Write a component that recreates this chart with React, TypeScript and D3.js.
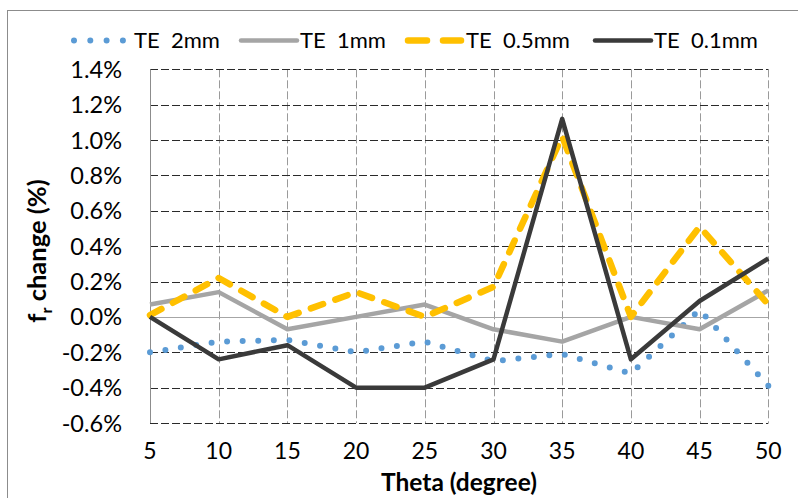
import React, { useEffect, useRef } from "react";
import * as d3 from "d3";

const thetas = [5, 10, 15, 20, 25, 30, 35, 40, 45, 50];
const te2mm = [-0.2, -0.14, -0.13, -0.2, -0.14, -0.25, -0.21, -0.32, 0.04, -0.39];
const te1mm = [0.07, 0.14, -0.07, 0.0, 0.07, -0.07, -0.14, 0.0, -0.07, 0.15];
const te05mm = [0.01, 0.22, 0.0, 0.14, 0.0, 0.17, 1.02, 0.0, 0.51, 0.07];
const te01mm = [0.0, -0.24, -0.16, -0.4, -0.4, -0.24, 1.12, -0.24, 0.09, 0.33];
const seriesNames = ["TE  2mm", "TE  1mm", "TE  0.5mm", "TE  0.1mm"];
const yTicks = [-0.6, -0.4, -0.2, 0, 0.2, 0.4, 0.6, 0.8, 1.0, 1.2, 1.4];

const W = 798;
const H = 498;
const FONT = "Lato, 'Open Sans', sans-serif";

export default function App() {
  const ref = useRef<SVGSVGElement>(null);

  useEffect(() => {
    document.body.style.margin = "0";
    const svg = d3.select(ref.current);
    svg.selectAll("*").remove();

    const x = d3.scaleLinear().domain([5, 50]).range([150, 768.3]);
    const y = d3.scaleLinear().domain([-0.6, 1.4]).range([423, 69.3]);

    svg.append("rect").attr("width", W).attr("height", H).attr("fill", "#fff");
    svg
      .append("rect")
      .attr("x", 7.5)
      .attr("y", 10.5)
      .attr("width", W + 10)
      .attr("height", H + 10)
      .attr("fill", "none")
      .attr("stroke", "#8c8c8c")
      .attr("stroke-width", 1);

    const g = svg.append("g");
    thetas.slice(1).forEach((t) => {
      g.append("line")
        .attr("x1", Math.round(x(t)) + 0.5)
        .attr("x2", Math.round(x(t)) + 0.5)
        .attr("y1", y(1.4))
        .attr("y2", y(-0.6))
        .attr("stroke", "#9a9a9a")
        .attr("stroke-width", 1)
        .attr("stroke-dasharray", "8,3");
    });
    yTicks.forEach((v) => {
      if (v === 0) return;
      g.append("line")
        .attr("x1", x(5))
        .attr("x2", x(50))
        .attr("y1", Math.round(y(v)) + 0.5)
        .attr("y2", Math.round(y(v)) + 0.5)
        .attr("stroke", "#2a2a2a")
        .attr("stroke-width", 1)
        .attr("stroke-dasharray", "8,3");
    });
    g.append("line")
      .attr("x1", x(5))
      .attr("x2", x(50))
      .attr("y1", Math.round(y(0)) + 0.5)
      .attr("y2", Math.round(y(0)) + 0.5)
      .attr("stroke", "#a6a6a6")
      .attr("stroke-width", 1.2);
    g.append("line")
      .attr("x1", Math.round(x(5)) + 0.5)
      .attr("x2", Math.round(x(5)) + 0.5)
      .attr("y1", y(1.4))
      .attr("y2", y(-0.6))
      .attr("stroke", "#8c8c8c")
      .attr("stroke-width", 1);

    const fmt = (v: number) => d3.format(".1f")(v).replace("\u2212", "-") + "%";
    yTicks.forEach((v) => {
      g.append("text")
        .attr("x", 122)
        .attr("y", y(v) + 8.5)
        .attr("text-anchor", "end")
        .attr("font-family", FONT)
        .attr("font-size", 23.5)
        .attr("fill", "#000")
        .text(fmt(v));
    });
    thetas.forEach((t) => {
      g.append("text")
        .attr("x", x(t))
        .attr("y", 459)
        .attr("text-anchor", "middle")
        .attr("font-family", FONT)
        .attr("font-size", 23)
        .attr("fill", "#000")
        .text(String(t));
    });
    g.append("text")
      .attr("x", 459)
      .attr("y", 490.5)
      .attr("text-anchor", "middle")
      .attr("font-family", FONT)
      .attr("font-weight", "bold")
      .attr("font-size", 24.5)
      .text("Theta (degree)");
    const yt = g
      .append("text")
      .attr("transform", "translate(46,251) rotate(-90)")
      .attr("text-anchor", "middle")
      .attr("font-family", FONT)
      .attr("font-weight", "bold")
      .attr("font-size", 25.5);
    yt.append("tspan").text("f");
    yt.append("tspan").attr("font-size", 16).attr("dy", 6).text("r");
    yt.append("tspan").attr("dy", -6).text(" change (%)");

    const line = d3
      .line<number>()
      .x((_, i) => x(thetas[i]))
      .y((d) => y(d));

    const styles = [
      { data: te2mm, color: "#5b9bd5", width: 6, dash: "dots", cap: "round" },
      { data: te1mm, color: "#a5a5a5", width: 4.5, dash: null, cap: "butt" },
      { data: te05mm, color: "#ffc000", width: 6.5, dash: "13,13", cap: "round" },
      { data: te01mm, color: "#3a3a3a", width: 4.5, dash: null, cap: "butt" },
    ];
    styles.forEach((s) => {
      const p = g
        .append("path")
        .attr("d", line(s.data))
        .attr("fill", "none")
        .attr("stroke", s.color)
        .attr("stroke-width", s.width)
        .attr("stroke-linejoin", "round")
        .attr("stroke-linecap", s.cap);
      if (s.dash === "dots") {
        const L = (p.node() as SVGPathElement).getTotalLength();
        const step = L / Math.round(L / 15.6);
        p.attr("stroke-dasharray", `0,${step}`);
      } else if (s.dash) p.attr("stroke-dasharray", s.dash);
    });

    const leg = [
      { x0: 74, x1: 123, tx: 134 },
      { x0: 241, x1: 297, tx: 300 },
      { x0: 408, x1: 461, tx: 466 },
      { x0: 595, x1: 651, tx: 654 },
    ];
    leg.forEach((l, i) => {
      const s = styles[i];
      const ln = g
        .append("line")
        .attr("x1", l.x0)
        .attr("x2", l.x1)
        .attr("y1", 40.5)
        .attr("y2", 40.5)
        .attr("stroke", s.color)
        .attr("stroke-width", s.width)
        .attr("stroke-linecap", "round");
      if (i === 0) ln.attr("stroke-dasharray", "0,16.3");
      if (i === 2) ln.attr("stroke-dasharray", "19,16");
      g.append("text")
        .attr("x", l.tx)
        .attr("y", 48)
        .attr("font-family", FONT)
        .attr("font-size", 22)
        .attr("xml:space", "preserve")
        .style("white-space", "pre")
        .text(seriesNames[i]);
    });
  }, []);

  return (
    <svg
      ref={ref}
      width={W}
      height={H}
      style={{ position: "absolute", left: 0, top: 0, display: "block" }}
    />
  );
}
